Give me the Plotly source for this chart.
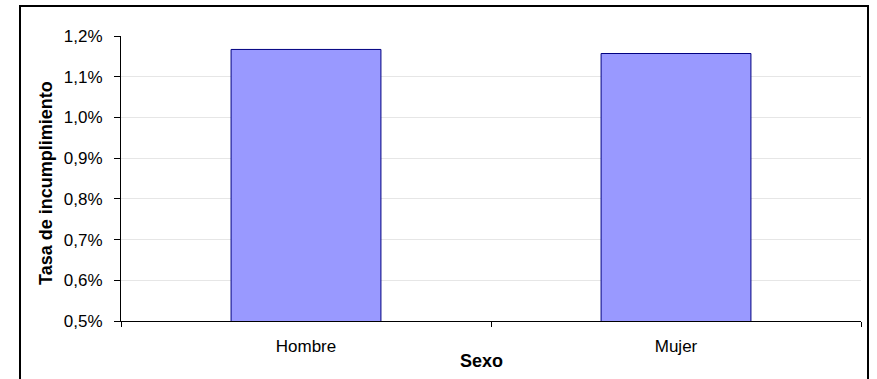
import plotly.graph_objects as go

# Default rate by sex
categories = ["Hombre", "Mujer"]
tasa = [0.01167, 0.01157]

y_ticks = [0.005, 0.006, 0.007, 0.008, 0.009, 0.010, 0.011, 0.012]

font_family = "Arial, Liberation Sans, sans-serif"

# plot area in pixels: x 121..861, y 36..321
PL, PR, PT, PB = 121, 861, 36, 321
PW, PH = PR - PL, PB - PT


def px_x(x):
    return (x - PL) / PW


def px_y(y):
    return (PB - y) / PH


fig = go.Figure(
    go.Bar(
        x=categories,
        y=tasa,
        marker=dict(color="#9999ff", line=dict(color="#000080", width=1)),
        width=0.405,
        hoverinfo="x+y",
    )
)

fig.update_layout(
    width=877,
    height=379,
    margin=dict(l=PL, r=877 - PR, t=PT, b=379 - PB),
    paper_bgcolor="white",
    plot_bgcolor="white",
    separators=", ",
    showlegend=False,
    font=dict(family=font_family, size=17, color="black"),
    xaxis=dict(
        type="category",
        tickson="boundaries",
        ticks="outside",
        ticklen=5,
        tickcolor="black",
        showline=True,
        linecolor="black",
        linewidth=1,
        showgrid=False,
        tickfont=dict(size=17),
        ticklabelstandoff=10,
    ),
    yaxis=dict(
        range=[0.005, 0.012],
        tickvals=y_ticks,
        tickformat=".1%",
        ticks="outside",
        ticklen=6,
        tickcolor="black",
        showline=True,
        linecolor="black",
        linewidth=1,
        showgrid=True,
        gridcolor="#e6e6e6",
        gridwidth=1,
        zeroline=False,
        tickfont=dict(size=17),
        ticklabelstandoff=8,
    ),
    annotations=[
        dict(
            text="<b>Tasa de incumplimiento</b>",
            xref="paper", yref="paper",
            x=px_x(46), y=px_y(183),
            xanchor="center", yanchor="middle",
            textangle=-90,
            showarrow=False,
            font=dict(size=18),
        ),
        dict(
            text="<b>Sexo</b>",
            xref="paper", yref="paper",
            x=px_x(481), y=px_y(361),
            xanchor="center", yanchor="middle",
            showarrow=False,
            font=dict(size=18),
        ),
    ],
    shapes=[
        dict(
            type="rect",
            xref="paper", yref="paper",
            x0=px_x(20), x1=px_x(868),
            y0=px_y(390), y1=px_y(6),
            line=dict(color="black", width=2),
            fillcolor="rgba(0,0,0,0)",
            layer="below",
        )
    ],
)

fig.write_html("out.html")
